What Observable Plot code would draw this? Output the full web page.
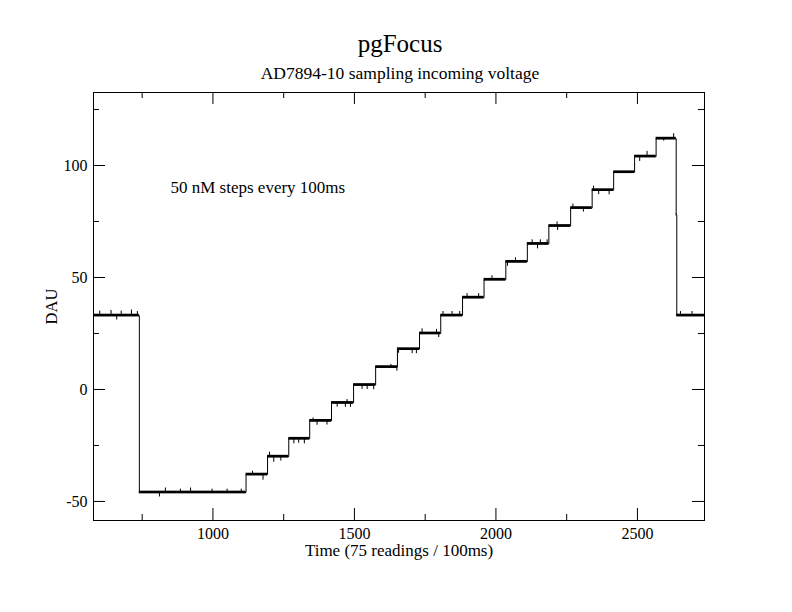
<!DOCTYPE html>
<html><head><meta charset="utf-8">
<script src="https://cdn.jsdelivr.net/npm/d3@7"></script>
<script src="https://cdn.jsdelivr.net/npm/@observablehq/plot@0.6"></script>
<style>
body{margin:0;background:#fff;}
#wrap{position:relative;width:792px;height:612px;background:#fff;font-family:"Liberation Serif","Times New Roman",serif;color:#000;overflow:hidden;}
#title{position:absolute;left:4px;width:792px;text-align:center;top:31px;font-size:25px;line-height:25px;}
#subtitle{position:absolute;left:4px;width:792px;text-align:center;top:65px;font-size:17.5px;line-height:17.5px;}
#chart{position:absolute;left:0;top:84px;}
</style></head>
<body><div id="wrap"><div id="title">pgFocus</div><div id="subtitle">AD7894-10 sampling incoming voltage</div><div id="chart"></div></div>
<script>
// Step signal: start of each plateau (readings) and its level (DAU)
const stepStart = [578, 740, 1117, 1193, 1268, 1342, 1419, 1497, 1575, 1652, 1730, 1805, 1882, 1958, 2035, 2111, 2187, 2264, 2340, 2416, 2490, 2566, 2637, 2639];
const stepLevel = [33, -46, -38, -30, -22, -14, -6, 2, 10, 18, 25, 33, 41, 49, 57, 65, 73, 81, 89, 97, 104, 112, 78, 33];
const lastReading = 2737;
// ADC noise half-width around each plateau (DAU)
const noiseHalf = 0.6;
// Visible noise spikes: reading, value (DAU)
const spikeX = [600, 640, 660, 676, 712, 733, 811, 832, 885, 921, 997, 1050, 1100, 1140, 1177, 1200, 1215, 1240, 1286, 1303, 1323, 1354, 1368, 1403, 1439, 1468, 1474, 1486, 1527, 1545, 1568, 1629, 1650, 1656, 1704, 1719, 1739, 1790, 1798, 1813, 1845, 1872, 1898, 1939, 1986, 2041, 2069, 2128, 2147, 2157, 2181, 2216, 2218, 2272, 2309, 2345, 2363, 2400, 2508, 2534, 2593, 2628, 2652, 2693];
const spikeY = [35, 35.3, 31, 35, 35.5, 34.8, -48, -44, -44.5, -44, -44.5, -44.5, -44.5, -36.5, -40.5, -28, -32.5, -32, -24.3, -24, -24.3, -12.7, -16, -15.9, -7.9, -8, -4.5, -8, 0, 0, -0.1, 11.2, 8.2, 16.2, 16, 16, 27.1, 26.8, 23.2, 34.8, 34.8, 34.8, 42.8, 42.8, 50.8, 55, 58.8, 66.8, 62.8, 66.8, 66.8, 74.8, 71, 82.8, 79.2, 90.8, 87, 86.9, 101.8, 106.3, 110.9, 114.2, 34.8, 34.8];
// Axes
const xDomain = [578, 2737];
const yDomain = [-58.5, 132.6];
const xMajor = [1000, 1500, 2000, 2500];
const xMinor = [750, 1250, 1750, 2250];
const yMajor = [-50, 0, 50, 100];
const yMinor = [-25, 25, 75, 125];
const xLabel = "Time (75 readings / 100ms)";
const yLabel = "DAU";
const noteText = "50 nM steps every 100ms";
const noteX = 850, noteY = 90;

const W = 792, H = 528, mL = 93, mR = 88, mT = 8, mB = 92;
const kx = (W - mL - mR) / (xDomain[1] - xDomain[0]);
const ky = (H - mT - mB) / (yDomain[1] - yDomain[0]);
const majLen = 12, minLen = 6;

const levelAt = (x) => { let l = stepLevel[0]; for (let i = 0; i < stepStart.length; i++) if (stepStart[i] <= x) l = stepLevel[i]; return l; };
const linePts = stepStart.map((x, i) => ({x, y: stepLevel[i]})).concat([{x: lastReading, y: stepLevel[stepLevel.length - 1]}]);
const bands = stepStart.map((x, i) => ({x1: x, x2: i + 1 < stepStart.length ? stepStart[i + 1] : lastReading, lvl: stepLevel[i]}));
const spikes = spikeX.map((x, i) => ({x, y: spikeY[i], base: levelAt(x)}));

const vTicks = (vals, len) => [
  Plot.ruleX(vals, {x: d => d, y1: yDomain[0], y2: yDomain[0] + len / ky, stroke: "black"}),
  Plot.ruleX(vals, {x: d => d, y1: yDomain[1], y2: yDomain[1] - len / ky, stroke: "black"})
];
const hTicks = (vals, len) => [
  Plot.ruleY(vals, {y: d => d, x1: xDomain[0], x2: xDomain[0] + len / kx, stroke: "black"}),
  Plot.ruleY(vals, {y: d => d, x1: xDomain[1], x2: xDomain[1] - len / kx, stroke: "black"})
];

const chart = Plot.plot({
  width: W, height: H, marginLeft: mL, marginRight: mR, marginTop: mT, marginBottom: mB,
  x: {domain: xDomain},
  y: {domain: yDomain},
  style: {fontFamily: "'Liberation Serif', 'Times New Roman', serif", fontSize: "16px", color: "black", background: "white"},
  marks: [
    Plot.rect(bands, {x1: "x1", x2: "x2", y1: d => d.lvl - noiseHalf, y2: d => d.lvl + noiseHalf, fill: "black"}),
    Plot.ruleX(spikes, {x: "x", y1: "base", y2: "y", stroke: "black", strokeWidth: 1}),
    Plot.line(linePts, {x: "x", y: "y", curve: "step-after", stroke: "black", strokeWidth: 1}),
    ...vTicks(xMajor, majLen), ...vTicks(xMinor, minLen),
    ...hTicks(yMajor, majLen), ...hTicks(yMinor, minLen),
    Plot.axisX(xMajor, {tickSize: 0, tickPadding: 7, tickFormat: d => String(d), fontSize: 16, label: null}),
    Plot.axisY(yMajor, {tickSize: 0, tickPadding: 6, tickFormat: d => String(d), fontSize: 16, label: null}),
    Plot.text([xLabel], {frameAnchor: "bottom", dy: 30.5, text: d => d, textAnchor: "middle", lineAnchor: "middle", fontSize: 17, fill: "black"}),
    Plot.text([yLabel], {frameAnchor: "left", dx: -42, rotate: -90, text: d => d, textAnchor: "middle", lineAnchor: "middle", fontSize: 16.5, fill: "black"}),
    Plot.text([noteText], {x: noteX, y: noteY, text: d => d, textAnchor: "start", lineAnchor: "middle", fontSize: 17, fill: "black"}),
    Plot.frame({stroke: "black", strokeWidth: 1})
  ]
});
document.getElementById("chart").appendChild(chart);
</script></body></html>
